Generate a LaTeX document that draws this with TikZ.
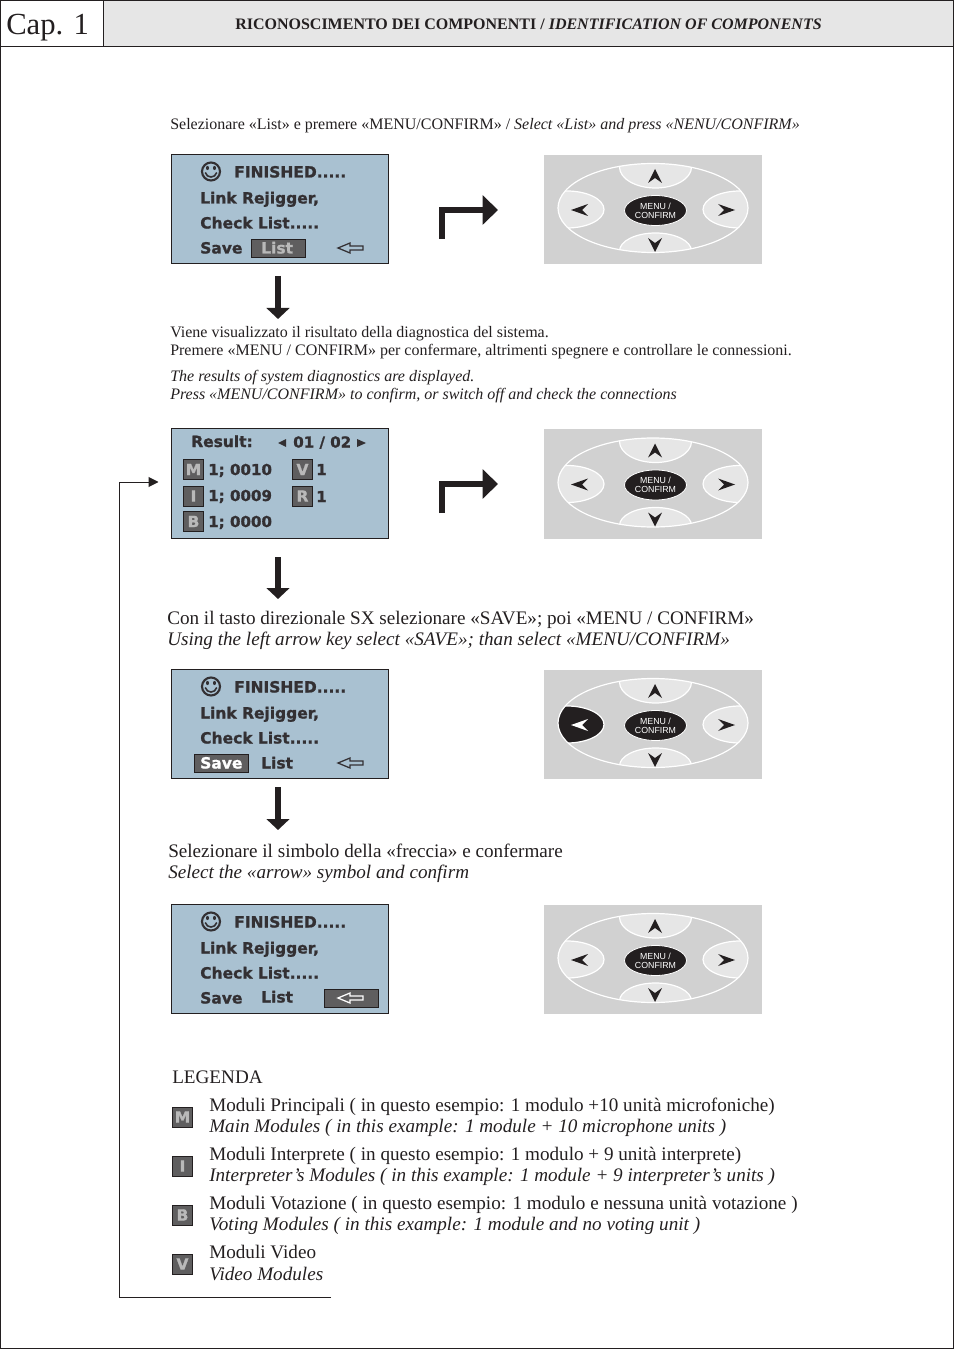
\documentclass[tikz,border=0pt]{standalone}
\usepackage{fontspec}
\setmainfont{Liberation Serif}
\newfontfamily\scrfont{DejaVu Sans}[BoldFont={DejaVu Sans Bold},BoldFeatures={FakeBold=1.2}]
\newfontfamily\kpfont{Liberation Sans}
\usetikzlibrary{arrows.meta,shapes.geometric}
\definecolor{scrbg}{HTML}{A9C1D1}
\definecolor{ink}{HTML}{231F20}
\definecolor{scrink}{HTML}{333033}
\definecolor{boxgray}{HTML}{5F5E5F}
\definecolor{lettergray}{HTML}{B9B9B9}
\definecolor{padgray}{HTML}{D1D1D1}
\definecolor{btn}{HTML}{E6E6E6}
\tikzset{
  txt/.style={anchor=base west,inner sep=0pt,text=ink},
  para/.style={txt,yshift=-0.75pt,font=\fontsize{12pt}{13pt}\selectfont},
  parai/.style={txt,yshift=-0.75pt,font=\itshape\fontsize{12pt}{13pt}\selectfont},
  paral/.style={txt,font=\fontsize{14.36pt}{15pt}\selectfont},
  parali/.style={txt,font=\itshape\fontsize{14.36pt}{15pt}\selectfont},
  scr/.style={anchor=base west,inner sep=0pt,text=scrink,font=\scrfont\bfseries\fontsize{11.6pt}{12pt}\selectfont},
  scrnum/.style={scr,font=\scrfont\bfseries\fontsize{11.3pt}{12pt}\selectfont},
  screenbox/.style={rectangle,draw=ink,line width=0.7pt,fill=scrbg,minimum width=163pt,minimum height=82pt,inner sep=0pt},
  padbox/.style={rectangle,fill=padgray,minimum width=163.5pt,minimum height=82pt,inner sep=0pt},
  hilite/.style={rectangle,draw=ink,line width=0.7pt,fill=boxgray,inner sep=0pt,minimum width=40.5pt,minimum height=13.5pt},
  tag/.style={rectangle,draw=ink,line width=0.7pt,fill=boxgray,inner sep=0pt,minimum width=15pt,minimum height=15pt,text=lettergray,font=\scrfont\bfseries\fontsize{11.6pt}{12pt}\selectfont},
  center key/.style={ellipse,fill=ink,draw=white,line width=0.6pt,minimum width=46.5pt,minimum height=22.5pt,inner sep=0pt,text=white,align=center,font=\kpfont\fontsize{6.6pt}{6.9pt}\selectfont},
  blockarrow/.style={draw=ink,line width=4.1pt,-{Triangle[length=8.25pt,width=17pt,fill=ink]}},
  bentarrow/.style={draw=ink,line width=4.4pt,-{Triangle[length=11.5pt,width=21.5pt,fill=ink]}},
  thinarrow/.style={draw=ink,line width=0.75pt,-{Triangle[length=7.5pt,width=7.5pt,fill=ink]}},
}
% hollow pointer arrow; #1 origin y, #2 x shift, #3 colour
\newcommand{\hollowarrow}[3]{%
  \draw[#3,line width=0.95pt,line join=miter,shift={(#2,#1)}]
    (338,248) -- (350,243) -- (350,246) -- (363,246) -- (363,250) -- (350,250) -- (350,253) -- cycle;}
% keypad: #1 name, #2 dy, #3 left key fill, #4 left glyph fill
\newcommand{\keypad}[4]{%
  \node[padbox] (#1) at (653,209.5+#2) {};
  \begin{scope}[shift={(0,#2)}]
    \begin{scope}
      \clip (653,208) ellipse [x radius=95,y radius=44.5];
      \fill[btn,draw=white,line width=0.9pt] (655.5,167) ellipse [x radius=36,y radius=21];
      \fill[btn,draw=white,line width=0.9pt] (655.5,251) ellipse [x radius=36,y radius=18];
      \fill[#3,draw=white,line width=0.9pt] (567,209.5) ellipse [x radius=37,y radius=18.5];
      \fill[btn,draw=white,line width=0.9pt] (740,209.5) ellipse [x radius=37,y radius=18.5];
    \end{scope}
    \draw[white,line width=0.9pt] (653,208) ellipse [x radius=95,y radius=44.5];
    \fill[ink] (655,169) -- (662,183) -- (655,178) -- (648,183) -- cycle;
    \fill[ink] (655,252) -- (662,238) -- (655,243) -- (648,238) -- cycle;
    \fill[#4] (571,210) -- (588,204) -- (582,210) -- (588,216) -- cycle;
    \fill[ink] (735,210) -- (718,204) -- (724,210) -- (718,216) -- cycle;
    \node[center key] (#1c) at (655.5,210.5) {MENU /\\CONFIRM};
  \end{scope}}
% smiley status lines: #1 name, #2 dy
\newcommand{\statuslines}[2]{%
  \begin{scope}[shift={(0,#2)}]
    \draw[scrink,line width=1.6pt] (211,171.5) circle (9);
    \fill[scrink] (207.5,168) ellipse [x radius=1.5,y radius=2.1];
    \fill[scrink] (214.5,168) ellipse [x radius=1.5,y radius=2.1];
    \draw[scrink,line width=1.2pt] (205.2,172.5) .. controls (207,178.5) and (215,178.5) .. (216.8,172.5);
    \node[scr] (#1a) at (234,177.5) {FINISHED.....};
    \node[scr] (#1b) at (200,203.5) {Link Rejigger,};
    \node[scr] (#1d) at (200,228.5) {Check List.....};
  \end{scope}}
\begin{document}
\begin{tikzpicture}[x=0.75pt,y=-0.75pt]
\useasboundingbox (0,0) rectangle (954,1351);
% page frame and header
\fill[btn] (103,1) rectangle (953,47);
\draw[ink,line width=0.75pt] (0.7,1) rectangle (953.3,1348);
\draw[ink,line width=0.75pt] (0.7,47) -- (953.3,47);
\draw[ink,line width=0.75pt] (103.5,1) -- (103.5,47);
\node[txt,font=\fontsize{23pt}{27pt}\selectfont] (cap) at (6,35) {Cap. 1};
\node[anchor=base,inner sep=0pt,text=ink,font=\bfseries\fontsize{12pt}{13pt}\selectfont] (title) at (528.5,30) {RICONOSCIMENTO DEI COMPONENTI / \textit{IDENTIFICATION OF COMPONENTS}};
% step 1
\node[para] (t1) at (170,129) {Selezionare «List» e premere «MENU/CONFIRM» / \textit{Select «List» and press «NENU/CONFIRM»}};
\node[screenbox] (s1) at (280,209) {};
\statuslines{s1}{0}
\node[scr] (s1save) at (200,253.5) {Save};
\node[hilite] (s1box) at (278,248) {};
\node[scr,text=lettergray] (s1list) at (261,253.5) {List};
\hollowarrow{0}{0}{scrink}
\keypad{k1}{0}{btn}{ink}
\coordinate (b1a) at (441.7,239); \coordinate (b1b) at (441.7,210); \coordinate (b1c) at (498,210);
\draw[bentarrow] (b1a) -- (b1b) -- (b1c);
\coordinate (d1a) at (278,276); \coordinate (d1b) at (278,319);
\draw[blockarrow] (d1a) -- (d1b);
% step 2 text
\node[para] (t2a) at (170,337) {Viene visualizzato il risultato della diagnostica del sistema.};
\node[para] (t2b) at (170,355) {Premere «MENU / CONFIRM» per confermare, altrimenti spegnere e controllare le connessioni.};
\node[parai] (t2c) at (170,381) {The results of system diagnostics are displayed.};
\node[parai] (t2d) at (170,398) {Press «MENU/CONFIRM» to confirm, or switch off and check the connections};
% result screen
\node[screenbox] (s2) at (280,483.5) {};
\node[scr] (res) at (191,447) {Result:};
\node[scrnum] (pg) at (293,447.5) {01 / 02};
\fill[scrink] (278,443) -- (286,439) -- (286,447) -- cycle;
\fill[scrink] (366,443) -- (357,439) -- (357,447) -- cycle;
\node[tag] (tm) at (193.5,469.5) {M};
\node[scrnum] (rm) at (208,475) {1; 0010};
\node[tag] (tv) at (302.5,469.5) {V};
\node[scrnum] (rv) at (316,475) {1};
\node[tag] (ti) at (193.5,496) {I};
\node[scrnum] (ri) at (208,501) {1; 0009};
\node[tag] (tr) at (302.5,496) {R};
\node[scrnum] (rr) at (316,502) {1};
\node[tag] (tb) at (193.5,521.5) {B};
\node[scrnum] (rb) at (208,527) {1; 0000};
\keypad{k2}{274.5}{btn}{ink}
\coordinate (b2a) at (441.7,513); \coordinate (b2b) at (441.7,484); \coordinate (b2c) at (498,484);
\draw[bentarrow] (b2a) -- (b2b) -- (b2c);
\coordinate (d2a) at (278,557); \coordinate (d2b) at (278,599);
\draw[blockarrow] (d2a) -- (d2b);
% step 3
\node[paral] (t3a) at (167,624) {Con il tasto direzionale SX selezionare «SAVE»; poi «MENU / CONFIRM»};
\node[parali] (t3b) at (167,645) {Using the left arrow key select «SAVE»; than select «MENU/CONFIRM»};
\node[screenbox] (s3) at (280,724) {};
\statuslines{s3}{515}
\node[hilite] (s3box) at (221,763) {};
\node[scr,text=white] (s3save) at (200,768.5) {Save};
\node[scr] (s3list) at (261,768.5) {List};
\hollowarrow{515}{0}{scrink}
\keypad{k3}{515}{ink}{white}
\coordinate (d3a) at (278,787); \coordinate (d3b) at (278,830);
\draw[blockarrow] (d3a) -- (d3b);
% step 4
\node[paral] (t4a) at (168,857) {Selezionare il simbolo della «freccia» e confermare};
\node[parali] (t4b) at (168,878) {Select the «arrow» symbol and confirm};
\node[screenbox] (s4) at (280,959) {};
\statuslines{s4}{750}
\node[scr] (s4save) at (200,1003.5) {Save};
\node[scr] (s4list) at (261,1002.5) {List};
\node[hilite] (s4box) at (351,998) {};
\hollowarrow{750}{0}{white}
\keypad{k4}{750}{btn}{ink}
% legend
\node[paral] (leg) at (172,1083) {LEGENDA};
\node[tag] (lm) at (182.5,1117) {M};
\node[paral] (l1a) at (209,1111) {Moduli Principali ( in questo esempio: 1 modulo +10 unità microfoniche)};
\node[parali] (l1b) at (209,1132) {Main Modules ( in this example: 1 module + 10 microphone units )};
\node[tag] (li) at (182.5,1166) {I};
\node[paral] (l2a) at (209,1160) {Moduli Interprete ( in questo esempio: 1 modulo + 9 unità interprete)};
\node[parali] (l2b) at (209,1181) {Interpreter’s Modules ( in this example: 1 module + 9 interpreter’s units )};
\node[tag] (lb) at (182.5,1215) {B};
\node[paral] (l3a) at (209,1209) {Moduli Votazione ( in questo esempio: 1 modulo e nessuna unità votazione )};
\node[parali] (l3b) at (209,1230) {Voting Modules ( in this example: 1 module and no voting unit )};
\node[tag] (lv) at (182.5,1264) {V};
\node[paral] (l4a) at (209,1258) {Moduli Video};
\node[parali] (l4b) at (209,1280) {Video Modules};
% return connector
\coordinate (ra) at (331,1297.5); \coordinate (rb) at (119.5,1297.5); \coordinate (rc) at (119.5,482); \coordinate (rd) at (158.5,482);
\draw[thinarrow] (ra) -- (rb) -- (rc) -- (rd);
\end{tikzpicture}
\end{document}
